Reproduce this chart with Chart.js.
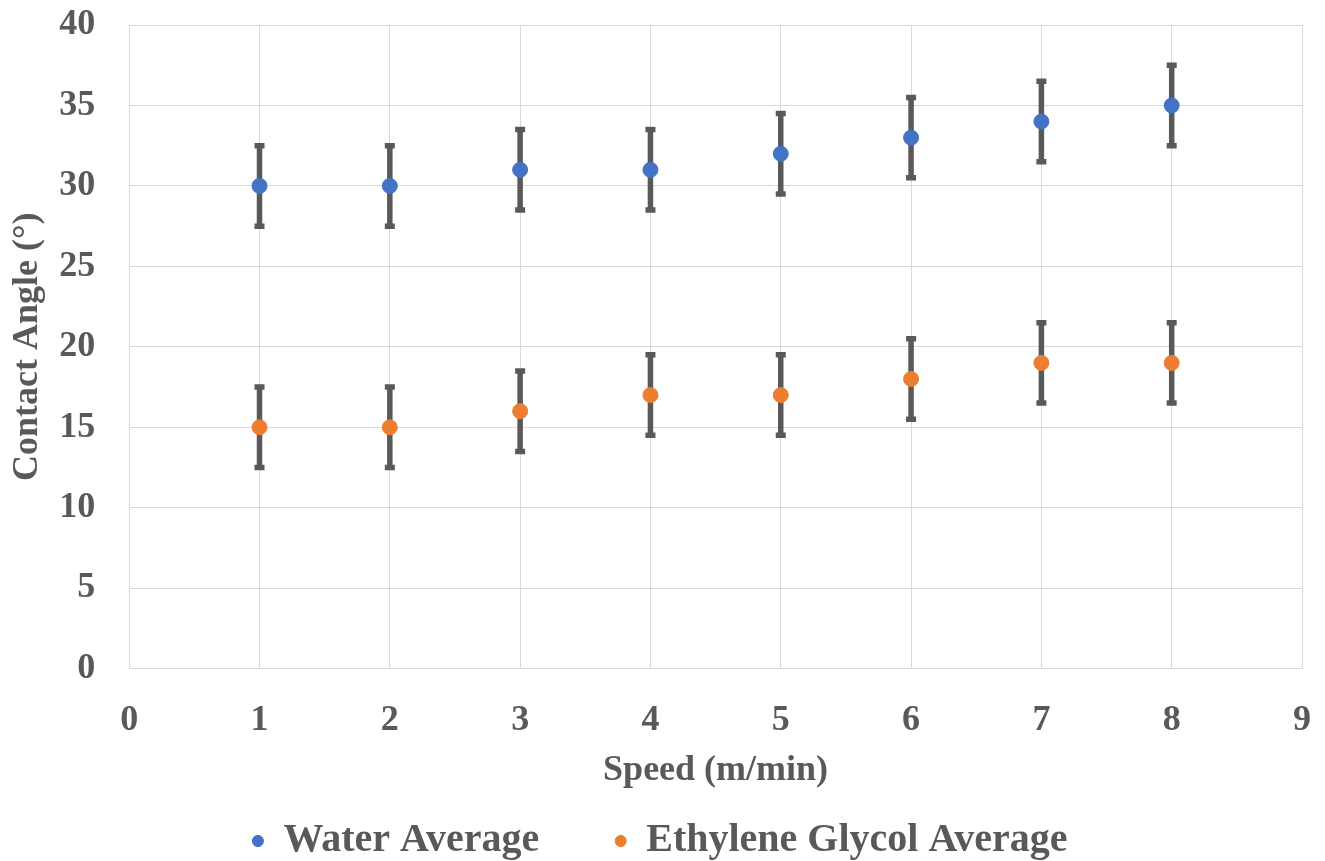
<!DOCTYPE html>
<html lang="en">
<head>
    <meta charset="UTF-8">
    <title>Contact Angle vs Speed</title>
    <script src="https://cdn.jsdelivr.net/npm/chart.js"></script>
    <style>
        html, body { margin: 0; padding: 0; background: #fff; }
        #wrap { width: 1325px; height: 861px; }
    </style>
</head>
<body>
    <div id="wrap"><canvas id="myChart"></canvas></div>

    <script>
        // data
        const speeds = [1, 2, 3, 4, 5, 6, 7, 8];
        const waterAvg = [30, 30, 31, 31, 32, 33, 34, 35];
        const waterErr = [2.5, 2.5, 2.5, 2.5, 2.5, 2.5, 2.5, 2.5];
        const glycolAvg = [15, 15, 16, 17, 17, 18, 19, 19];
        const glycolErr = [2.5, 2.5, 2.5, 2.5, 2.5, 2.5, 2.5, 2.5];

        const textColor = '#595959';
        const serif = "'Liberation Serif', 'Times New Roman', serif";

        // vertical error bars, taken from the errors array of each dataset
        const errorBars = {
            id: 'errorBars',
            beforeDatasetsDraw(chart) {
                const ctx = chart.ctx;
                const yScale = chart.scales.y;
                ctx.save();
                ctx.strokeStyle = '#595959';
                ctx.lineWidth = 5.5;
                chart.data.datasets.forEach((ds, i) => {
                    const meta = chart.getDatasetMeta(i);
                    meta.data.forEach((pt, j) => {
                        const v = ds.data[j].y;
                        const e = ds.errors[j];
                        const top = yScale.getPixelForValue(v + e);
                        const bot = yScale.getPixelForValue(v - e);
                        ctx.beginPath();
                        ctx.moveTo(pt.x, top);
                        ctx.lineTo(pt.x, bot);
                        ctx.moveTo(pt.x - 5, top);
                        ctx.lineTo(pt.x + 5, top);
                        ctx.moveTo(pt.x - 5, bot);
                        ctx.lineTo(pt.x + 5, bot);
                        ctx.stroke();
                    });
                });
                ctx.restore();
            }
        };

        const ctx = document.getElementById('myChart').getContext('2d');
        new Chart(ctx, {
            type: 'scatter',
            data: {
                datasets: [{
                    label: 'Water Average',
                    data: speeds.map((s, i) => ({ x: s, y: waterAvg[i] })),
                    errors: waterErr,
                    backgroundColor: '#4472C4',
                    borderColor: '#4472C4',
                    pointRadius: 7.5,
                    pointHoverRadius: 7.5
                }, {
                    label: 'Ethylene Glycol Average',
                    data: speeds.map((s, i) => ({ x: s, y: glycolAvg[i] })),
                    errors: glycolErr,
                    backgroundColor: '#ED7D31',
                    borderColor: '#ED7D31',
                    pointRadius: 7.5,
                    pointHoverRadius: 7.5
                }]
            },
            options: {
                responsive: true,
                maintainAspectRatio: false,
                animation: false,
                layout: { padding: { left: 18, right: 23, top: 25, bottom: -10 } },
                plugins: {
                    tooltip: { enabled: false },
                    legend: {
                        position: 'bottom',
                        labels: {
                            usePointStyle: true,
                            pointStyle: 'circle',
                            boxHeight: 8,
                            pointStyleWidth: 11,
                            padding: 76,
                            color: textColor,
                            font: { family: serif, size: 40, weight: 'bold' }
                        }
                    }
                },
                scales: {
                    x: {
                        type: 'linear',
                        min: 0,
                        max: 9,
                        // tick padding should not push the plot edges inward
                        afterFit: (scale) => { scale.paddingLeft = 0; scale.paddingRight = 0; },
                        ticks: {
                            stepSize: 1,
                            padding: 31,
                            color: textColor,
                            font: { family: serif, size: 36, weight: 'bold' }
                        },
                        grid: { color: '#d9d9d9', drawTicks: false },
                        border: { color: '#d9d9d9' },
                        title: {
                            display: true,
                            text: 'Speed (m/min)',
                            color: textColor,
                            padding: { top: -25, bottom: -47 },
                            font: { family: serif, size: 36, weight: 'bold' }
                        }
                    },
                    y: {
                        min: 0,
                        max: 40,
                        afterFit: (scale) => { scale.paddingTop = 0; },
                        ticks: {
                            stepSize: 5,
                            padding: 34,
                            color: textColor,
                            font: { family: serif, size: 36, weight: 'bold' }
                        },
                        grid: { color: '#d9d9d9', drawTicks: false },
                        border: { color: '#d9d9d9' },
                        title: {
                            display: true,
                            text: 'Contact Angle (°)',
                            color: textColor,
                            padding: { top: -12, bottom: -24 },
                            font: { family: serif, size: 36, weight: 'bold' }
                        }
                    }
                }
            },
            plugins: [errorBars]
        });
    </script>
</body>
</html>
